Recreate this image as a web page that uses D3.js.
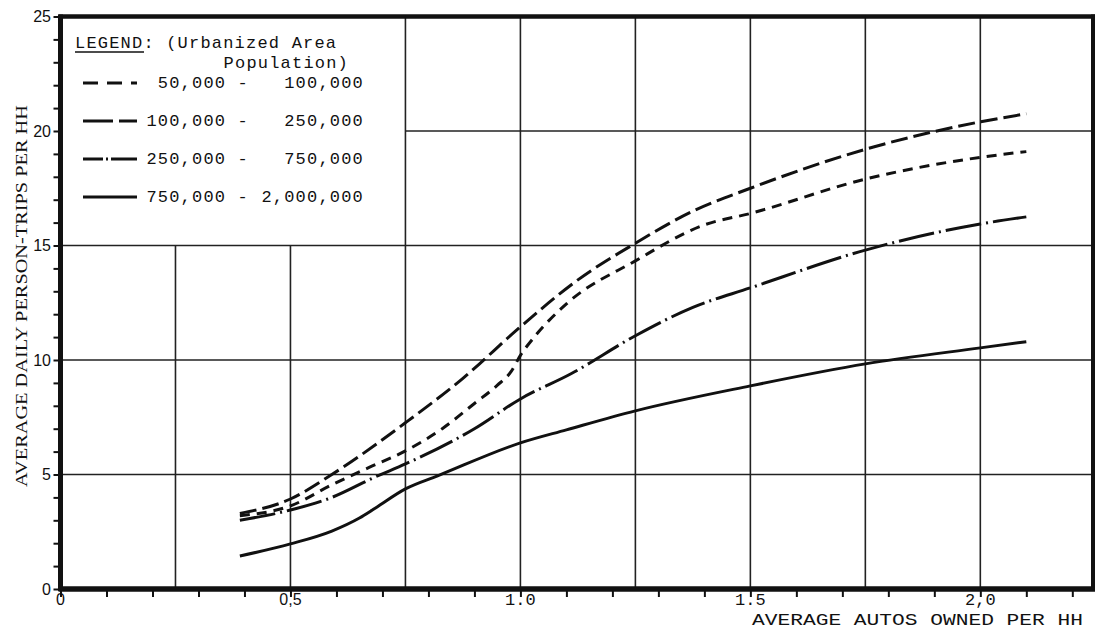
<!DOCTYPE html>
<html><head><meta charset="utf-8">
<script src="https://cdn.jsdelivr.net/npm/d3@7"></script>
<style>body{margin:0;background:#fff}svg{display:block}</style>
</head><body>
<svg id="chart" width="1097" height="635"></svg>
<script>
// ---- data ----
const legendLeft  = ["50,000 -", "100,000 -", "250,000 -", "750,000 -"];
const legendRight = ["100,000", "250,000", "750,000", "2,000,000"];

const s1x = [0.39, 0.50, 0.59, 0.67, 0.75, 0.83, 0.90, 0.95, 0.98, 1.00, 1.03, 1.10, 1.25, 1.40, 1.50, 1.75, 2.00, 2.10];
const s1y = [3.2, 3.63, 4.55, 5.3, 6.03, 7.0, 8.1, 8.9, 9.5, 10.2, 11.0, 12.45, 14.33, 15.9, 16.4, 17.9, 18.85, 19.1];

const s2x = [0.39, 0.50, 0.59, 0.75, 0.875, 1.00, 1.125, 1.25, 1.375, 1.50, 1.75, 2.00, 2.10];
const s2y = [3.3, 3.93, 5.0, 7.26, 9.2, 11.45, 13.5, 15.1, 16.5, 17.5, 19.2, 20.4, 20.75];

const s3x = [0.39, 0.50, 0.59, 0.685, 0.75, 0.90, 1.00, 1.11, 1.25, 1.375, 1.50, 1.75, 2.00, 2.10];
const s3y = [3.0, 3.45, 4.0, 4.9, 5.46, 7.0, 8.3, 9.4, 11.06, 12.3, 13.15, 14.8, 15.94, 16.25];

const s4x = [0.39, 0.50, 0.59, 0.65, 0.685, 0.75, 0.82, 1.00, 1.10, 1.25, 1.50, 1.75, 2.00, 2.10];
const s4y = [1.44, 1.97, 2.53, 3.1, 3.54, 4.37, 4.94, 6.38, 6.95, 7.78, 8.87, 9.83, 10.53, 10.8];

const yTickValues = [0, 5, 10, 15, 20, 25];
const xTickValues = [0, 0.5, 1.0, 1.5, 2.0];
const xTickLabels = ["0", "0,5", "1.0", "1.5", "2,0"];
const xGridValues = [0.25, 0.5, 0.75, 1.0, 1.25, 1.5, 1.75, 2.0];
const yGridValues = [5, 10, 15, 20];
const xTitle = "AVERAGE AUTOS OWNED PER HH";
const yTitle = "AVERAGE DAILY PERSON-TRIPS PER HH";

// ---- layout ----
const svg = d3.select("#chart");
const L = 60.5, R = 1093, T = 16.5, B = 589;
const x = d3.scaleLinear().domain([0, 2.245]).range([L, R]);
const y = d3.scaleLinear().domain([0, 25]).range([B, T]);
const ink = "#111";
const legendBoxX = 0.75, legendBoxY = 15;

// grid
const grid = svg.append("g").attr("stroke", "#222").attr("stroke-width", 1.6);
grid.selectAll("line.h").data(yGridValues).join("line")
  .attr("x1", v => v > legendBoxY ? x(legendBoxX) : L).attr("x2", R)
  .attr("y1", v => y(v)).attr("y2", v => y(v));
grid.selectAll("line.v").data(xGridValues).join("line")
  .attr("x1", v => x(v)).attr("x2", v => x(v))
  .attr("y1", B).attr("y2", v => v < legendBoxX ? y(legendBoxY) : T);

// axes ticks (minor)
const xAxis = d3.axisBottom(x).tickValues(d3.range(0, 2.25, 0.1)).tickSize(8).tickFormat("");
svg.append("g").attr("transform", `translate(0,${B})`).call(xAxis)
  .call(g => g.select(".domain").remove())
  .call(g => g.selectAll("line").attr("stroke", ink).attr("stroke-width", 2));
const yAxis = d3.axisLeft(y).tickValues(d3.range(0, 25.01, 1)).tickSize(7).tickFormat("");
svg.append("g").attr("transform", `translate(${L},0)`).call(yAxis)
  .call(g => g.select(".domain").remove())
  .call(g => g.selectAll("line").attr("stroke", ink).attr("stroke-width", 2));

// frame
svg.append("line").attr("x1", L - 2).attr("x2", R + 2).attr("y1", T).attr("y2", T).attr("stroke", ink).attr("stroke-width", 4.5);
svg.append("line").attr("x1", L - 2).attr("x2", R + 2).attr("y1", B).attr("y2", B).attr("stroke", ink).attr("stroke-width", 5.5);
svg.append("line").attr("x1", L).attr("x2", L).attr("y1", T - 2).attr("y2", B + 2).attr("stroke", ink).attr("stroke-width", 5);
svg.append("line").attr("x1", R).attr("x2", R).attr("y1", T - 2).attr("y2", B + 2).attr("stroke", ink).attr("stroke-width", 4);

// tick labels
svg.append("g").selectAll("text").data(yTickValues).join("text")
  .attr("x", 51).attr("y", v => y(v)).attr("dy", "0.36em")
  .attr("text-anchor", "end").attr("font-family", "Liberation Sans, Arial, sans-serif")
  .attr("font-size", 16).attr("fill", ink).text(v => v);
svg.append("g").selectAll("text").data(xTickValues).join("text")
  .attr("x", v => x(v)).attr("y", 605)
  .attr("text-anchor", "middle")
  .attr("font-family", (v, i) => i < 2 ? "Liberation Sans, Arial, sans-serif" : "Liberation Mono, Courier New, monospace")
  .attr("font-size", (v, i) => i < 2 ? 16 : 17)
  .attr("fill", ink).text((v, i) => xTickLabels[i]);

// axis titles
svg.append("text").attr("x", 752).attr("y", 625)
  .attr("font-family", "Liberation Mono, Courier New, monospace").attr("font-size", 16)
  .attr("textLength", 331).attr("lengthAdjust", "spacingAndGlyphs")
  .attr("fill", ink).text(xTitle);
svg.append("text").attr("transform", "translate(27,296) rotate(-90)")
  .attr("text-anchor", "middle")
  .attr("font-family", "Liberation Serif, Times New Roman, serif").attr("font-size", 17)
  .attr("textLength", 382).attr("lengthAdjust", "spacingAndGlyphs")
  .attr("fill", ink).text(yTitle);

// curves
const series = [
  {xs: s1x, ys: s1y, dash: "10,7", ldash: "15,9"},
  {xs: s2x, ys: s2y, dash: "17,6", ldash: "30,6"},
  {xs: s3x, ys: s3y, dash: "36,5,2,5", ldash: "20,3,2,3,40"},
  {xs: s4x, ys: s4y, dash: null, ldash: null}
];
const line = d3.line().x(d => x(d[0])).y(d => y(d[1])).curve(d3.curveMonotoneX);
svg.append("g").selectAll("path").data(series).join("path")
  .attr("d", s => line(s.xs.map((v, i) => [v, s.ys[i]])))
  .attr("fill", "none").attr("stroke", ink).attr("stroke-width", 3)
  .attr("stroke-dasharray", s => s.dash);

// legend
const mono = "Liberation Mono, Courier New, monospace";
const lg = svg.append("g").attr("font-family", mono).attr("font-size", 17)
  .attr("letter-spacing", 1.2).attr("fill", ink);
lg.append("text").attr("x", 75).attr("y", 48).text("LEGEND: (Urbanized Area");
lg.append("line").attr("x1", 75).attr("x2", 144).attr("y1", 52).attr("y2", 52)
  .attr("stroke", ink).attr("stroke-width", 1.3);
lg.append("text").attr("x", 349).attr("y", 68).attr("text-anchor", "end").text("Population)");
const rowY = [88, 126, 164, 202];
lg.selectAll("line.sample").data(series).join("line").attr("class", "sample")
  .attr("x1", 83).attr("x2", 137).attr("y1", (s, i) => rowY[i] - 5).attr("y2", (s, i) => rowY[i] - 5)
  .attr("stroke", ink).attr("stroke-width", 3).attr("stroke-dasharray", s => s.ldash);
lg.selectAll("text.l").data(legendLeft).join("text").attr("class", "l")
  .attr("x", 249).attr("y", (d, i) => rowY[i]).attr("text-anchor", "end").text(d => d);
lg.selectAll("text.r").data(legendRight).join("text").attr("class", "r")
  .attr("x", 364).attr("y", (d, i) => rowY[i]).attr("text-anchor", "end").text(d => d);
</script>
</body></html>
